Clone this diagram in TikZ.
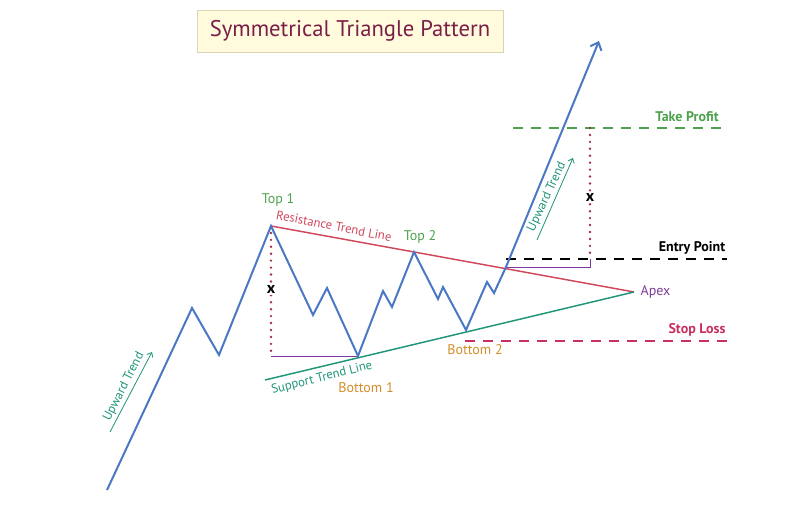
\documentclass[tikz,border=0pt]{standalone}
\usepackage{fontspec}
\setmainfont{PT Sans}
\usetikzlibrary{arrows.meta}
\definecolor{price}{HTML}{4A78C4}
\definecolor{resist}{HTML}{D0485C}
\definecolor{support}{HTML}{1E9478}
\definecolor{toplbl}{HTML}{4EA24E}
\definecolor{botlbl}{HTML}{D38E2A}
\definecolor{apexlbl}{HTML}{7E3A9A}
\definecolor{stoplbl}{HTML}{C8305E}
\definecolor{dots}{HTML}{A0304A}
\definecolor{titlefill}{HTML}{FFFBDC}
\definecolor{titletext}{HTML}{7A1E48}
\begin{document}
\begin{tikzpicture}[x=0.75pt,y=0.75pt,yscale=-1,xscale=1,
  lbl/.style={inner sep=0.75pt,font=\fontsize{9.5}{11}\selectfont},
  level/.style={line width=1.1pt,dash pattern=on 7.5pt off 6pt},
  measure/.style={color=dots,line width=2pt,line cap=round,dash pattern=on 0pt off 5.2pt},
  trendarrow/.style={color=support,line width=0.6pt,-{Straight Barb[length=3pt,width=5pt]}}]
\useasboundingbox (0,0) rectangle (800,505);

%Points of the price path
\coordinate (start) at (107,490);
\coordinate (top1) at (271,226);
\coordinate (bot1) at (358,356);
\coordinate (top2) at (414,252);
\coordinate (bot2) at (466,330);
\coordinate (brk) at (506,267);
\coordinate (tip) at (599,41);
\coordinate (apex) at (634,292);
\coordinate (sup0) at (265,380);

%Shape: Title box
\node (title) at (350,31) [draw={rgb,255:red,217;green,212;blue,184},fill=titlefill,minimum width=229.5pt,minimum height=31.5pt,text=titletext,font=\fontsize{17}{20}\selectfont] {Symmetrical Triangle Pattern};

%Straight Lines: take profit, entry, stop loss
\draw [level,color=toplbl] (513,128) -- (727,128);
\draw [level,color=black] (brk|-0,259) coordinate (entry0) -- (727,259) coordinate (entry1);
\draw [level,color=stoplbl] (465,341) -- (727,341);

%Straight Lines: measured heights
\draw [measure] (top1) -- (top1|-bot1);
\draw [color=apexlbl,line width=0.6pt] (top1|-bot1) -- (bot1);
\draw [measure] (590,128) -- (590,259);
\draw [color=apexlbl,line width=0.6pt] (brk) -- (590,267) -- (590,259);

%Straight Lines: trend lines
\draw [color=resist,line width=1.1pt] (top1) -- (apex);
\draw [color=support,line width=1.1pt] (sup0) -- (apex);

%Shape: price path
\draw [color=price,line width=1.5pt,line join=miter,-{Straight Barb[length=5pt,width=9pt]}]
  (start) -- (192,308) -- (219,355) -- (top1) -- (313,315) -- (327,288) -- (bot1)
  -- (383,291) -- (392,307) -- (top2) -- (438,299) -- (443,287) -- (bot2)
  -- (487,282) -- (494,293) -- (brk) -- (tip);

%Straight Lines: trend arrows
\coordinate (upA0) at (110,432);
\coordinate (upA1) at (152,352);
\draw [trendarrow] (upA0) -- (upA1);
\coordinate (upB0) at (537,240);
\coordinate (upB1) at (573,158);
\draw [trendarrow] (upB0) -- (upB1);

% Text Node
\node (uptrendA) at (124,387) [lbl,rotate=63,text=support] {Upward Trend};
% Text Node
\node (uptrendB) at (547,197) [lbl,rotate=65,text=support] {Upward Trend};
% Text Node
\node (top1lbl) at (278,200) [lbl,text=toplbl,font=\fontsize{10.5}{12}\selectfont] {Top 1};
% Text Node
\node (top2lbl) at (420,237) [lbl,text=toplbl,font=\fontsize{10.5}{12}\selectfont] {Top 2};
% Text Node
\node (bot1lbl) at (366,388) [lbl,text=botlbl,font=\fontsize{10.5}{12}\selectfont] {Bottom 1};
% Text Node
\node (bot2lbl) at (475,350) [lbl,text=botlbl,font=\fontsize{10.5}{12}\selectfont] {Bottom 2};
% Text Node
\node (resistlbl) at (334,226) [lbl,rotate=-11,text=resist] {Resistance Trend Line};
% Text Node
\node (supportlbl) at (322,378) [lbl,rotate=14,text=support] {Support Trend Line};
% Text Node
\node (apexlbl) at (apex) [lbl,anchor=west,xshift=4pt,text=apexlbl,font=\fontsize{10.5}{12}\selectfont] {Apex};
% Text Node
\node (entrylbl) at (692,248) [lbl,font=\bfseries\fontsize{10.5}{12}\selectfont] {Entry Point};
% Text Node
\node (profitlbl) at (687,117) [lbl,text=toplbl,font=\bfseries\fontsize{10.5}{12}\selectfont] {Take Profit};
% Text Node
\node (stoplbl) at (697,330) [lbl,text=stoplbl,font=\bfseries\fontsize{10.5}{12}\selectfont] {Stop Loss};
% Text Node
\node (xA) at (271,290) [lbl,fill=white,font=\bfseries\fontsize{12}{14}\selectfont] {x};
% Text Node
\node (xB) at (590,198) [lbl,fill=white,font=\bfseries\fontsize{12}{14}\selectfont] {x};

\end{tikzpicture}
\end{document}
